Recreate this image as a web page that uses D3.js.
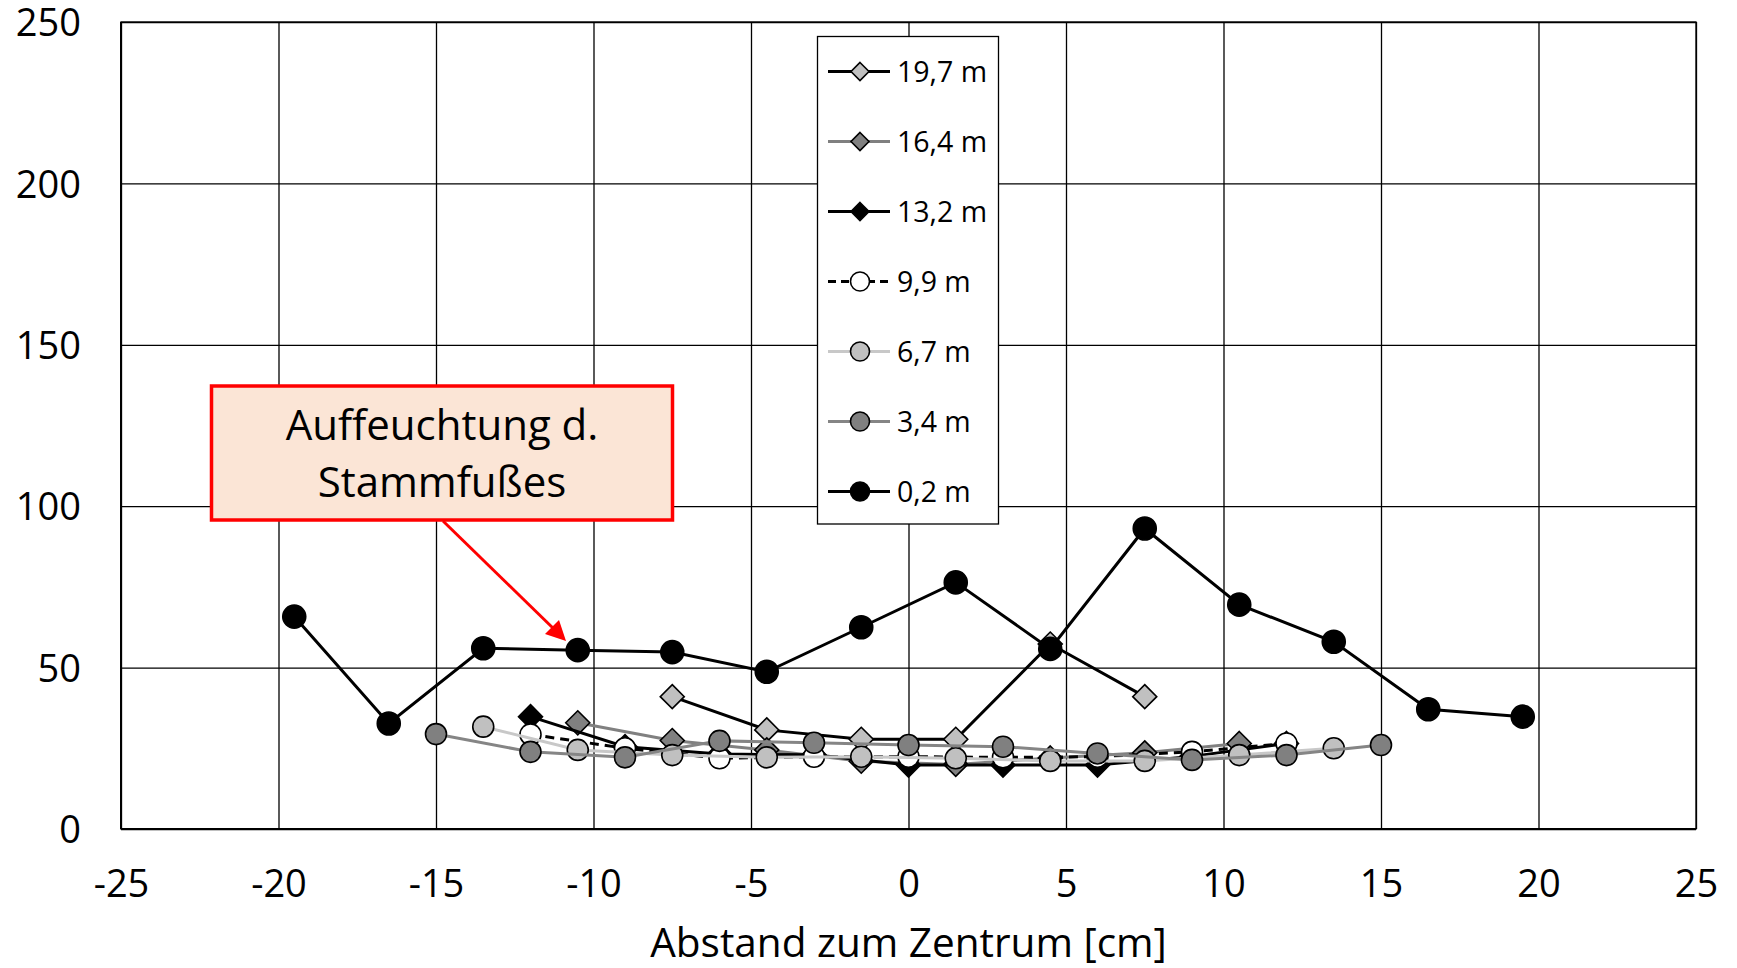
<!doctype html>
<html>
<head>
<meta charset="utf-8">
<title>Abstand zum Zentrum</title>
<script src="https://d3js.org/d3.v7.min.js"></script>
<style type="text/css">
	body { margin: 0; background: #fff; }
	text { font-family: "Open Sans", sans-serif; fill: #000; }
	.tick text { font-size: 38px; }
	.grid line { stroke: #000; stroke-width: 1.3; }
	.grid path { display: none; }
	.axisTitle { font-size: 40.5px; }
	.legendText { font-size: 28.5px; }
	.note { font-size: 42px; }
</style>
</head>
<body>
<script>
	// data, x in cm, y in the unitless measure
	var x02  = [-19.5, -16.5, -13.5, -10.5, -7.5, -4.5, -1.5, 1.5, 4.5, 7.5, 10.5, 13.5, 16.5, 19.5];
	var y02  = [65.8, 32.7, 56.0, 55.4, 54.8, 48.7, 62.5, 76.4, 55.8, 93.1, 69.5, 58.0, 37.1, 34.8];

	var x34  = [-15, -12, -9, -6, -3, 0, 3, 6, 9, 12, 15];
	var y34  = [29.4, 23.9, 22.2, 27.3, 26.7, 26.0, 25.5, 23.4, 21.4, 22.9, 26.0];

	var x67  = [-13.5, -10.5, -7.5, -4.5, -1.5, 1.5, 4.5, 7.5, 10.5, 13.5];
	var y67  = [31.7, 24.5, 22.9, 22.2, 22.4, 21.9, 21.1, 21.1, 22.9, 25.0];

	var x99  = [-12, -9, -6, -3, 0, 3, 6, 9, 12];
	var y99  = [29.3, 25.0, 21.9, 22.4, 22.4, 22.2, 22.4, 23.9, 26.5];

	var x132 = [-12, -9, -6, -3, 0, 3, 6, 9, 12];
	var y132 = [34.8, 25.5, 23.2, 23.0, 19.8, 19.8, 19.8, 22.5, 26.5];

	var x164 = [-10.5, -7.5, -4.5, -1.5, 1.5, 4.5, 7.5, 10.5];
	var y164 = [32.9, 27.4, 24.5, 21.0, 20.0, 22.0, 23.6, 26.5];

	var x197 = [-7.5, -4.5, -1.5, 1.5, 4.5, 7.5];
	var y197 = [41.0, 30.7, 27.8, 27.8, 57.3, 41.0];

	var seriesNames = ["19,7 m", "16,4 m", "13,2 m", "9,9 m", "6,7 m", "3,4 m", "0,2 m"];
	var xTicks = [-25, -20, -15, -10, -5, 0, 5, 10, 15, 20, 25];
	var yTicks = [0, 50, 100, 150, 200, 250];
	var xTitle = "Abstand zum Zentrum [cm]";
	var noteLines = ["Auffeuchtung d.", "Stammfußes"];

	var w = 1737;
	var h = 968;
	var pLeft = 121, pRight = 1696, pTop = 22, pBottom = 829;

	var svg = d3.select("body")
				.append("svg")
				.attr("width", w)
				.attr("height", h);

	var xScale = d3.scaleLinear().domain([-25, 25]).range([pLeft, pRight]);
	var yScale = d3.scaleLinear().domain([0, 250]).range([pBottom, pTop]);

	// styling per series, same order as names (drawn bottom to top)
	var styles = [
		{ line: "#000",    dash: null,  shape: "diamond", fill: "#c0c0c0" },
		{ line: "#808080", dash: null,  shape: "diamond", fill: "#808080" },
		{ line: "#000",    dash: null,  shape: "diamond", fill: "#000" },
		{ line: "#000",    dash: "9,6", shape: "circle",  fill: "#fff" },
		{ line: "#c8c8c8", dash: null,  shape: "circle",  fill: "#c0c0c0" },
		{ line: "#858585", dash: null,  shape: "circle",  fill: "#808080" },
		{ line: "#000",    dash: null,  shape: "circle",  fill: "#000", big: true }
	];
	var xs = [x197, x164, x132, x99, x67, x34, x02];
	var ys = [y197, y164, y132, y99, y67, y34, y02];

	var series = seriesNames.map(function(n, i) {
		return {
			name: n,
			style: styles[i],
			values: xs[i].map(function(x, j) { return { x: x, y: ys[i][j] }; })
		};
	});

	// gridlines
	svg.append("g")
		.attr("class", "grid")
		.attr("transform", "translate(0," + pBottom + ")")
		.call(d3.axisBottom(xScale).tickValues(xTicks).tickSize(-(pBottom - pTop)).tickFormat(""));

	svg.append("g")
		.attr("class", "grid")
		.attr("transform", "translate(" + pLeft + ",0)")
		.call(d3.axisLeft(yScale).tickValues(yTicks).tickSize(-(pRight - pLeft)).tickFormat(""));

	svg.append("rect")
		.attr("x", pLeft).attr("y", pTop)
		.attr("width", pRight - pLeft).attr("height", pBottom - pTop)
		.attr("fill", "none").attr("stroke", "#000").attr("stroke-width", 1.3);

	svg.append("line")
		.attr("x1", pLeft).attr("x2", pRight).attr("y1", pBottom).attr("y2", pBottom)
		.attr("stroke", "#000").attr("stroke-width", 2);
	svg.append("line")
		.attr("x1", pLeft).attr("x2", pLeft).attr("y1", pTop).attr("y2", pBottom)
		.attr("stroke", "#000").attr("stroke-width", 2);

	// tick labels (plain hyphen minus like the original)
	var xAxis = svg.append("g")
		.attr("transform", "translate(0," + pBottom + ")")
		.call(d3.axisBottom(xScale).tickValues(xTicks).tickSize(0).tickPadding(41).tickFormat(function(d) { return String(d); }));
	xAxis.select(".domain").remove();

	var yAxis = svg.append("g")
		.attr("transform", "translate(" + pLeft + ",0)")
		.call(d3.axisLeft(yScale).tickValues(yTicks).tickSize(0).tickPadding(40).tickFormat(function(d) { return String(d); }));
	yAxis.select(".domain").remove();
	yAxis.selectAll("text").attr("dy", "0.36em");

	svg.append("text")
		.attr("class", "axisTitle")
		.attr("x", (pLeft + pRight) / 2)
		.attr("y", 957)
		.attr("text-anchor", "middle")
		.text(xTitle);

	// series
	var line = d3.line()
		.x(function(d) { return xScale(d.x); })
		.y(function(d) { return yScale(d.y); });

	function marker(sel, st, r) {
		if (st.shape === "circle") {
			sel.append("circle").attr("r", r);
		} else {
			sel.append("path").attr("d", "M0," + (-r) + "L" + r + ",0L0," + r + "L" + (-r) + ",0Z");
		}
		sel.selectAll("circle,path")
			.attr("fill", st.fill)
			.attr("stroke", "#000")
			.attr("stroke-width", 1.6);
	}

	series.forEach(function(s) {
		var g = svg.append("g");
		g.append("path")
			.datum(s.values)
			.attr("d", line)
			.attr("fill", "none")
			.attr("stroke", s.style.line)
			.attr("stroke-width", 3)
			.attr("stroke-dasharray", s.style.dash);

		g.selectAll("g.pt")
			.data(s.values)
			.enter()
			.append("g")
			.attr("class", "pt")
			.attr("transform", function(d) { return "translate(" + xScale(d.x) + "," + yScale(d.y) + ")"; })
			.each(function() {
				var r = s.style.shape === "circle" ? (s.style.big ? 11.5 : 10.5) : 12;
				marker(d3.select(this), s.style, r);
			});
	});

	// legend
	var legend = svg.append("g");
	legend.append("rect")
		.attr("x", 817.5).attr("y", 36.5)
		.attr("width", 181).attr("height", 487.5)
		.attr("fill", "#fff").attr("stroke", "#000").attr("stroke-width", 1.3);

	series.forEach(function(s, i) {
		var cy = 71.5 + i * 70;
		var item = legend.append("g");
		item.append("line")
			.attr("x1", 828).attr("x2", 890).attr("y1", cy).attr("y2", cy)
			.attr("stroke", s.style.line)
			.attr("stroke-width", 3)
			.attr("stroke-dasharray", s.style.dash ? "8,5" : null);
		var m = item.append("g").attr("transform", "translate(860," + cy + ")");
		marker(m, s.style, s.style.shape === "circle" ? 9.5 : 9);
		item.append("text")
			.attr("class", "legendText")
			.attr("x", 897)
			.attr("y", cy)
			.attr("dy", "0.36em")
			.text(s.name);
	});

	// annotation
	var note = svg.append("g");
	note.append("line")
		.attr("x1", 443).attr("y1", 521)
		.attr("x2", 556).attr("y2", 631)
		.attr("stroke", "#ff0000").attr("stroke-width", 3);
	note.append("path")
		.attr("d", "M566,641L545,634L559,620Z")
		.attr("fill", "#ff0000");
	note.append("rect")
		.attr("x", 211.5).attr("y", 386)
		.attr("width", 461).attr("height", 134)
		.attr("fill", "#fbe5d6")
		.attr("stroke", "#ff0000").attr("stroke-width", 3.5);
	note.selectAll("text.note")
		.data(noteLines)
		.enter()
		.append("text")
		.attr("class", "note")
		.attr("x", 442)
		.attr("y", function(d, i) { return 440 + i * 57; })
		.attr("text-anchor", "middle")
		.text(function(d) { return d; });
</script>
</body>
</html>
